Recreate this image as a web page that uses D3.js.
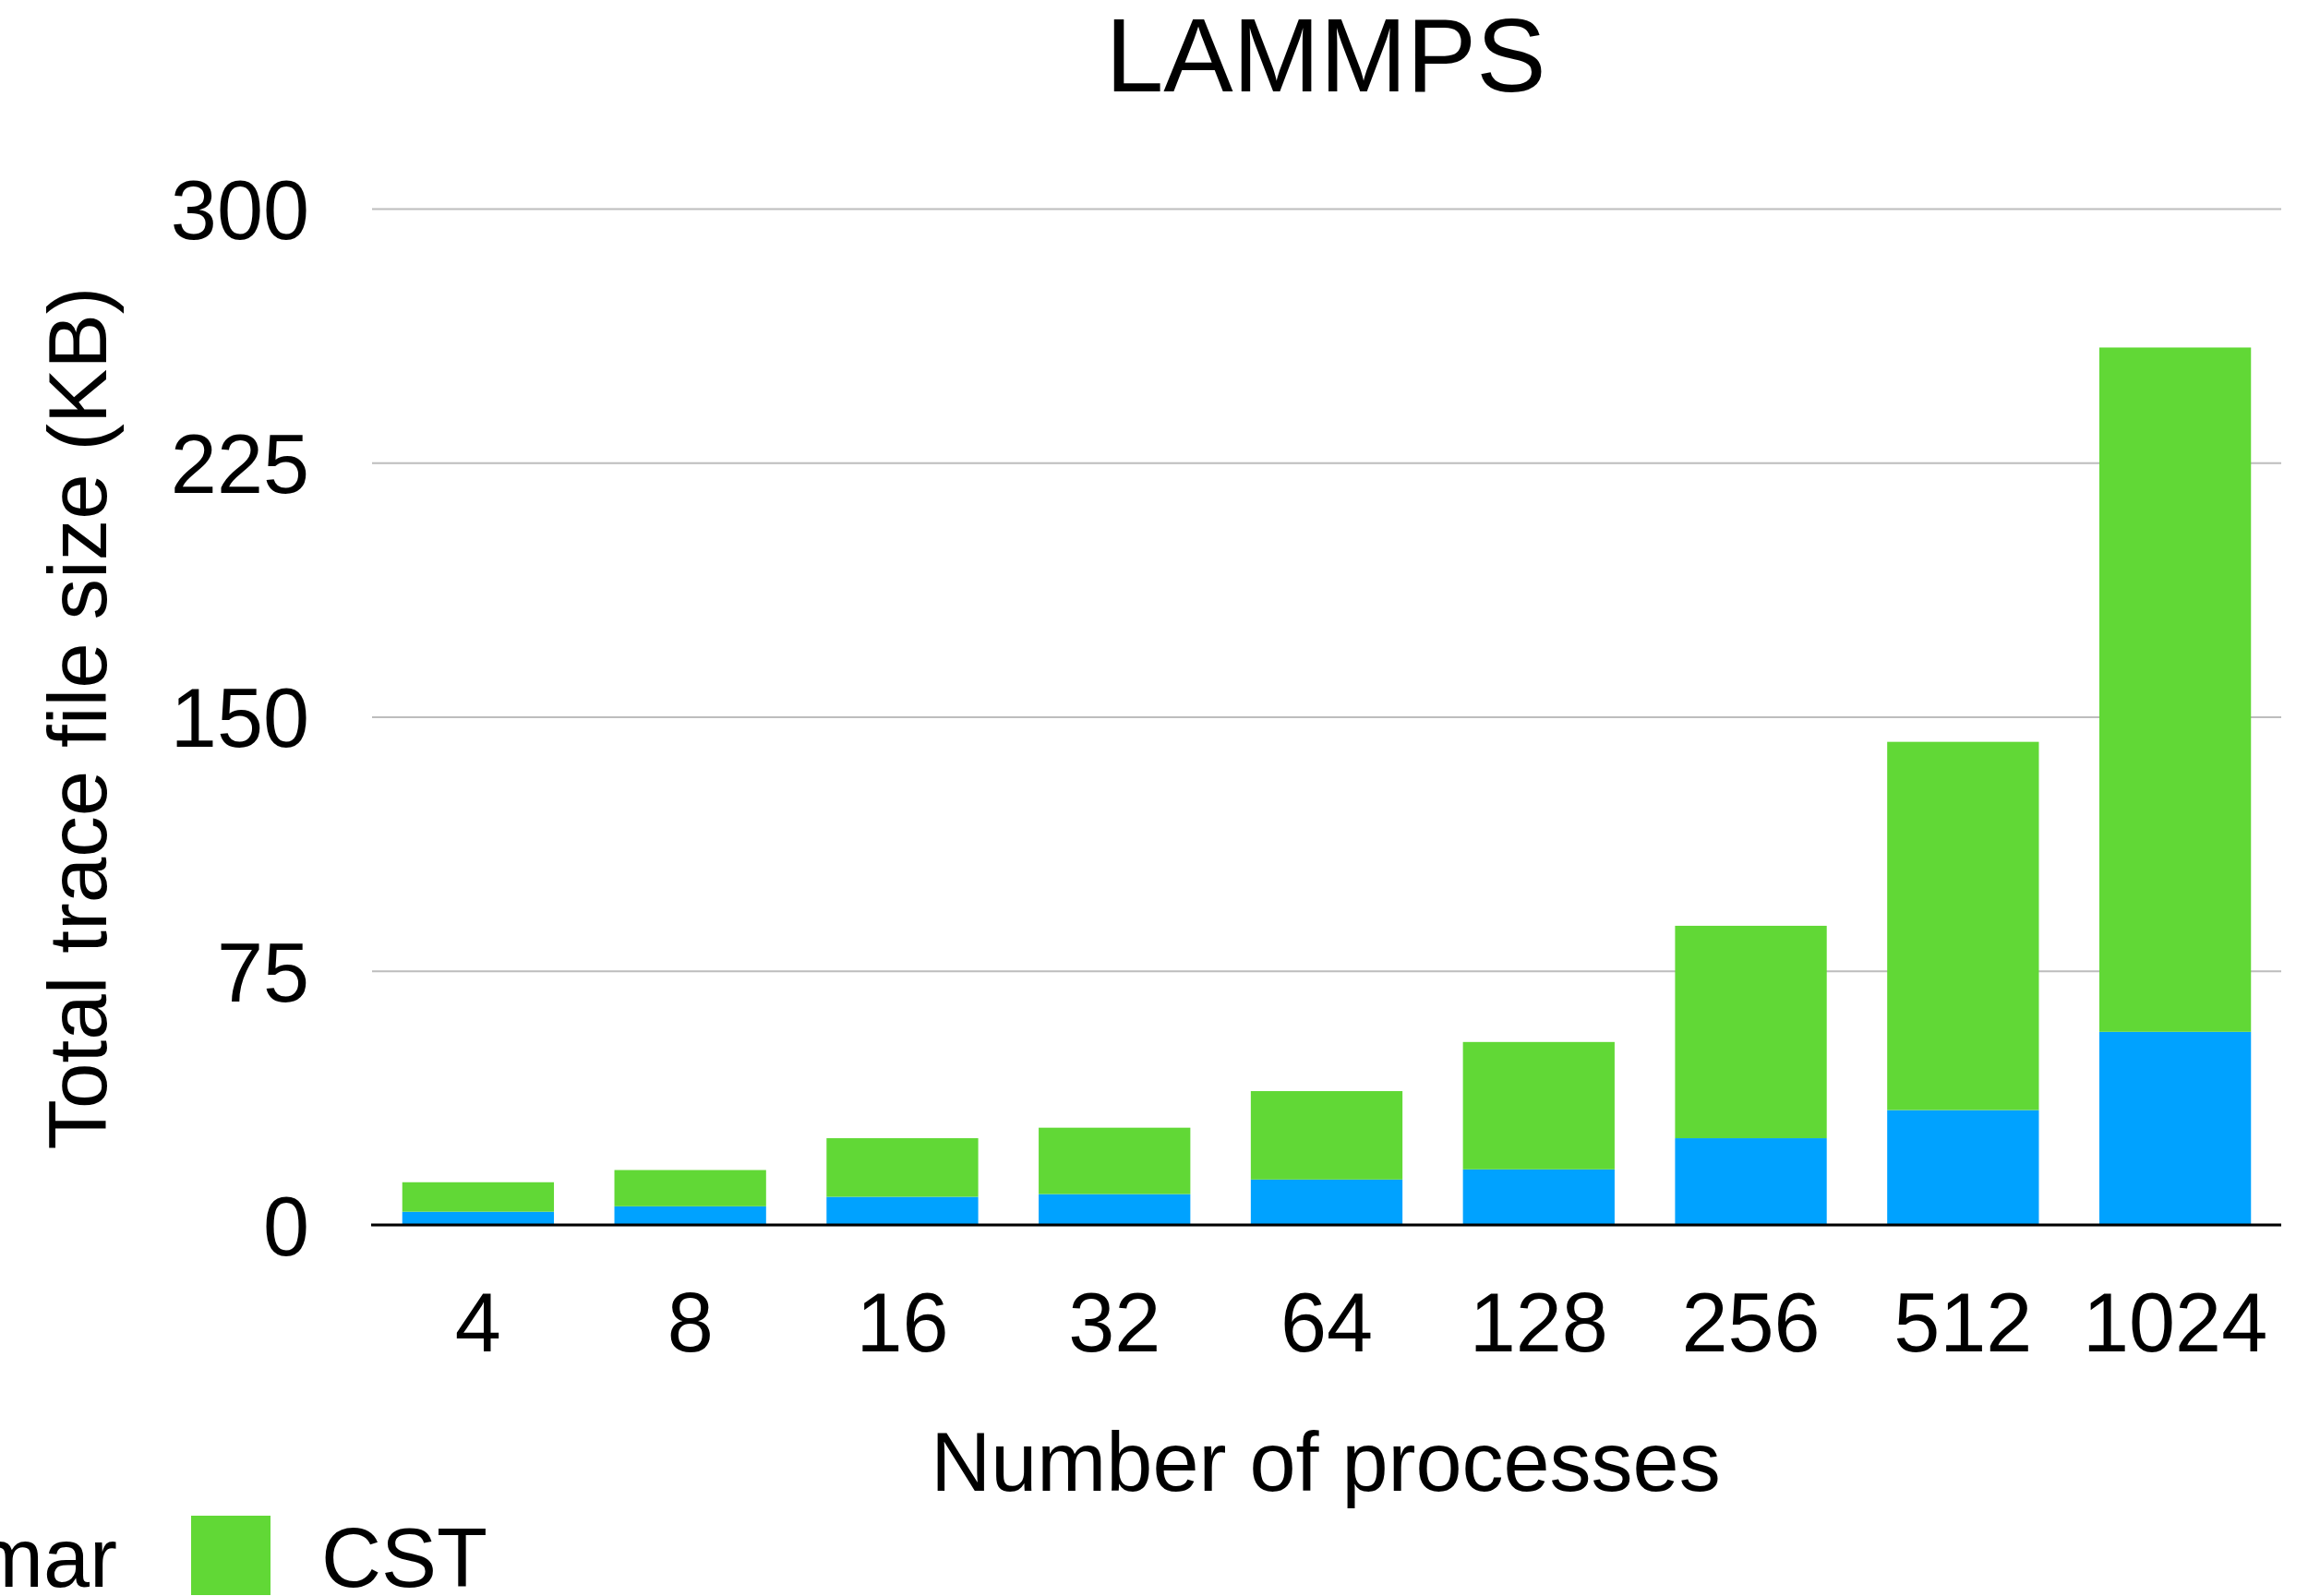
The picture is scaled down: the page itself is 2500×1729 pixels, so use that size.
<!DOCTYPE html>
<html>
<head>
<meta charset="utf-8">
<script src="https://cdn.jsdelivr.net/npm/d3@7/dist/d3.min.js"></script>
<style>
  html, body { margin: 0; padding: 0; background: #fff; }
  svg { display: block; }
  text { font-family: "Liberation Sans", Arial, Helvetica, sans-serif; fill: #000; }
</style>
</head>
<body>
<svg id="chart" width="2500" height="1729"></svg>
<script>
const categories = ["4", "8", "16", "32", "64", "128", "256", "512", "1024"];
const grammarValues = [3.9, 5.5, 8.3, 9.1, 13.4, 16.4, 25.6, 33.9, 57.0];
const totalValues = [12.6, 16.2, 25.6, 28.7, 39.5, 54.0, 88.3, 142.6, 259.0];
const cstValues = totalValues.map((t, i) => +(t - grammarValues[i]).toFixed(1));
const yTicks = [0, 75, 150, 225, 300];
const seriesNames = ["Grammar", "CST"];
const seriesColors = ["#00A2FF", "#61D836"];

(function () {
const svg = d3.select("#chart");
const mLeft = 403, mRight = 2471, mTop = 226, mBottom = 1327;

const x = d3.scaleBand().domain(categories).range([mLeft, mRight]).paddingInner(0.285).paddingOuter(0.1425);
const y = d3.scaleLinear().domain([0, 300]).range([mBottom, mTop]);

// gridlines + y labels
const yAxis = d3.axisLeft(y).tickValues(yTicks).tickSize(-(mRight - mLeft)).tickPadding(68).tickFormat(d3.format("d"));
const gy = svg.append("g").attr("transform", `translate(${mLeft},0)`).call(yAxis);
gy.select(".domain").remove();
gy.selectAll(".tick line").attr("stroke", "#bdbdbd").attr("stroke-width", 2);
gy.selectAll(".tick text").attr("font-size", 90).attr("dy", "0.36em").attr("fill", "#000");

// stacked bars
const stackData = categories.map((c, i) => ({ cat: c, Grammar: grammarValues[i], CST: cstValues[i] }));
const stacked = d3.stack().keys(seriesNames)(stackData);
svg.append("g").selectAll("g").data(stacked).join("g")
  .attr("fill", (d, i) => seriesColors[i])
  .selectAll("rect").data(d => d).join("rect")
  .attr("x", d => x(d.data.cat))
  .attr("width", x.bandwidth())
  .attr("y", d => y(d[1]))
  .attr("height", d => y(d[0]) - y(d[1]));

// baseline
svg.append("line").attr("x1", mLeft - 1).attr("x2", mRight).attr("y1", y(0)).attr("y2", y(0))
  .attr("stroke", "#000").attr("stroke-width", 3);

// x axis labels
const xAxis = d3.axisBottom(x).tickSize(0).tickPadding(0);
const gx = svg.append("g").attr("transform", `translate(0,${mBottom})`).call(xAxis);
gx.select(".domain").remove();
gx.selectAll(".tick text").attr("font-size", 90).attr("y", 137).attr("dy", 0).attr("fill", "#000");

// title
svg.append("text").attr("x", 1436).attr("y", 99).attr("text-anchor", "middle")
  .attr("font-size", 113).text("LAMMPS");

// axis titles
svg.append("text").attr("x", 1436).attr("y", 1615).attr("text-anchor", "middle")
  .attr("font-size", 90).text("Number of processes");
svg.append("text").attr("transform", "translate(115,778) rotate(-90)").attr("text-anchor", "middle")
  .attr("font-size", 89).text("Total trace file size (KB)");

// legend
const lg = svg.append("g");
const cstX = 207;
lg.append("rect").attr("x", cstX).attr("y", 1642).attr("width", 86).attr("height", 86).attr("fill", seriesColors[1]);
lg.append("text").attr("x", cstX + 141).attr("y", 1719).attr("font-size", 90).text(seriesNames[1]);
const gText = lg.append("text").attr("x", cstX - 80).attr("y", 1719).attr("text-anchor", "end")
  .attr("font-size", 90).text(seriesNames[0]);
const gw = gText.node().getComputedTextLength();
lg.append("rect").attr("x", cstX - 80 - gw - 55 - 86).attr("y", 1642).attr("width", 86).attr("height", 86).attr("fill", seriesColors[0]);
})();
</script>
</body>
</html>
